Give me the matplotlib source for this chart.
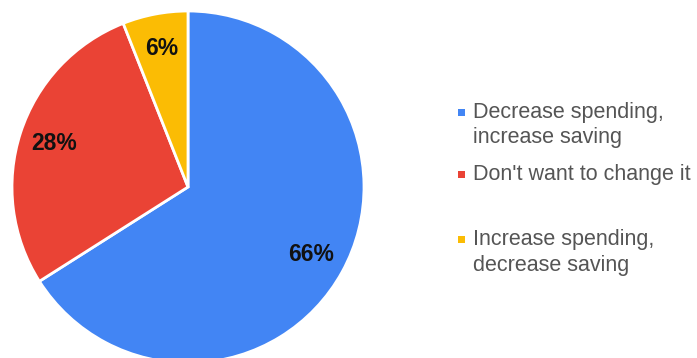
import matplotlib
matplotlib.use("Agg")
import matplotlib.pyplot as plt
from matplotlib.patches import Rectangle

# data
labels = ["Decrease spending,\nincrease saving", "Don't want to change it", "Increase spending,\ndecrease saving"]
shares = [66, 28, 6]
colors = ["#4285F4", "#EA4335", "#FBBC04"]

plt.rcParams['font.family'] = ['Liberation Sans', 'DejaVu Sans']

fig = plt.figure(figsize=(6.97, 3.58), dpi=100)
ax = fig.add_axes([0, 0, 1, 1])

wedges, texts, autotexts = ax.pie(
    shares, colors=colors, startangle=90, counterclock=False,
    center=(188, 171), radius=176, frame=True,
    autopct='%d%%', pctdistance=0.8,
    wedgeprops=dict(edgecolor='white', linewidth=2),
    textprops=dict(fontsize=16.5, fontweight='bold', color='#111111'))
ax.set_xlim(0, 697)
ax.set_ylim(0, 358)
ax.set_aspect('equal')
ax.axis('off')

# legend drawn by hand (uneven spacing like the original)
legend_y = [112, 174, 239]
for lab, col, y in zip(labels, colors, legend_y):
    ax.add_patch(Rectangle((458, 358 - y - 3.5), 7, 7, color=col, lw=0))
    for i, line in enumerate(lab.split("\n")):
        ax.text(473, 358 - (y + 6 + i * 25.5), line, fontsize=15.5,
                color='#555555', va='baseline', ha='left')

fig.savefig("out.png", dpi=100)
